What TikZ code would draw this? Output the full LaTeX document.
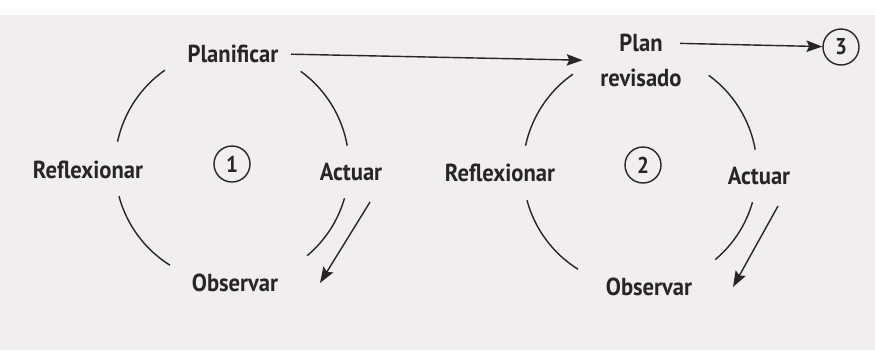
\documentclass[tikz,border=0pt]{standalone}
\usepackage{fontspec}
\setmainfont{PT Sans}[FakeStretch=0.92]
\usetikzlibrary{arrows.meta, positioning, calc}
\definecolor{inkcol}{HTML}{262626}
\definecolor{papercol}{HTML}{F1EEEF}

\begin{document}
\begin{tikzpicture}[
  stage/.style={font=\fontsize{14}{20}\selectfont\bfseries, text=inkcol, align=center, inner sep=2pt},
  num/.style={draw=inkcol, circle, line width=0.8pt, minimum size=0.72cm, inner sep=0pt, font=\fontsize{13}{13}\selectfont\bfseries, text=inkcol},
  arrow/.style={-{Stealth[length=9pt, width=6.5pt, inset=1.5pt]}, line width=0.8pt, draw=inkcol},
  loop/.style={line width=0.8pt, draw=inkcol}
]
\fill[papercol] (0,0) rectangle (17.5,6.7);
\useasboundingbox (0,0) rectangle (17.5,7);

% First cycle
\coordinate (cyc1) at (4.64, 3.68);
\node[stage] (planificar) at (4.66, 5.92) {Planificar};
\node[stage] (reflexionar1) at (1.76, 3.6) {Reflexionar};
\node[stage] (actuar1) at (7.02, 3.56) {Actuar};
\node[stage] (observar1) at (4.7, 1.34) {Observar};
\node[num] (num1) at (4.64, 3.72) {1};

% Second cycle
\coordinate (cyc2) at (12.8, 3.6);
\node[stage] (plan) at (12.82, 5.79) {Plan\\revisado};
\node[stage] (reflexionar2) at (10.0, 3.54) {Reflexionar};
\node[stage] (actuar2) at (15.18, 3.48) {Actuar};
\node[stage] (observar2) at (12.98, 1.26) {Observar};
\node[num] (num2) at (12.86, 3.7) {2};
\node[num] (num3) at (16.82, 6.06) {3};

% Loops
\foreach \c in {cyc1, cyc2}
  \foreach \a/\b in {10/54, 125/168, 195/238, -50/-16}
    \draw[loop] (\c) ++(\a:2.34) arc[start angle=\a, end angle=\b, radius=2.34];

% Arrows
\draw[arrow, shorten <=5pt, shorten >=8pt] (planificar.east) -- (plan.west);
\draw[arrow, shorten <=-3pt] ([yshift=0.34cm]plan.east) -- (num3);
\draw[arrow] ([shift={(0.38,-0.6)}]actuar1.center) -- ([xshift=1.7cm]observar1.center);
\draw[arrow] ([shift={(0.38,-0.6)}]actuar2.center) -- ([xshift=1.68cm]observar2.center);
\end{tikzpicture}
\end{document}
